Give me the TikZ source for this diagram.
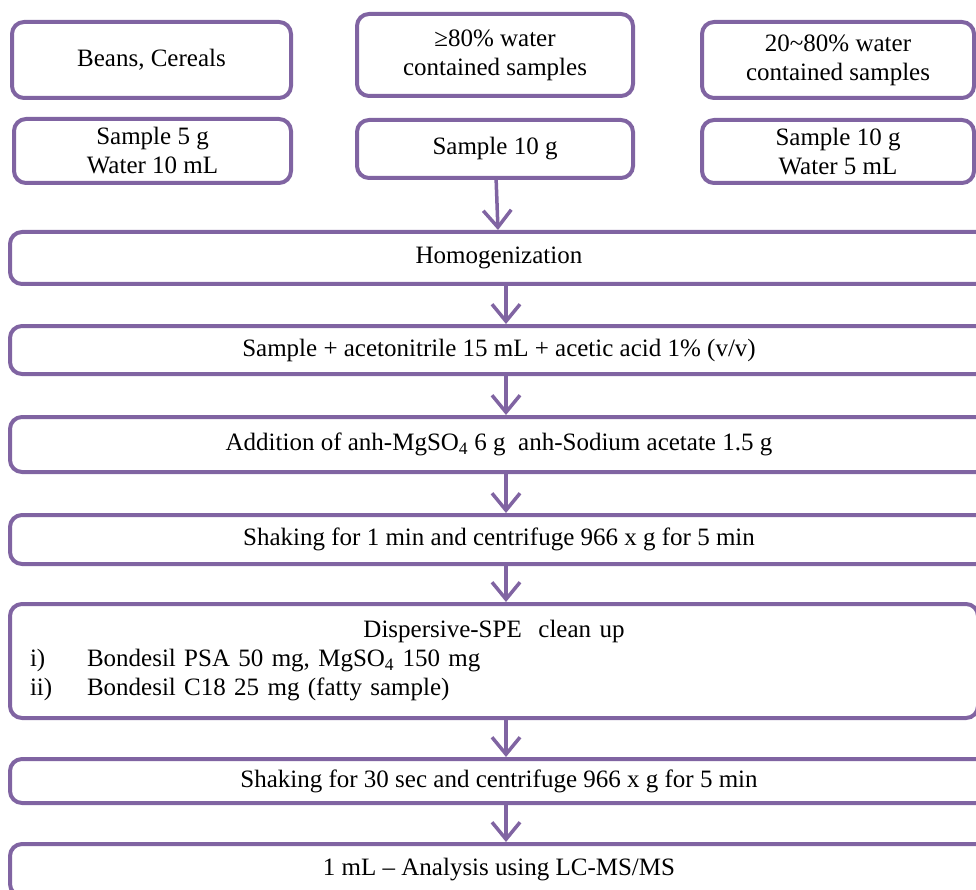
\documentclass[tikz,border=0pt]{standalone}
\usepackage{fontspec}
\setmainfont{Liberation Serif}
\usetikzlibrary{arrows.meta}
\definecolor{boxpurple}{HTML}{8064A2}
\tikzset{
    box/.style={draw=boxpurple, line width=4pt, rounded corners=12pt, fill=white, align=center, inner sep=0pt, font=\fontsize{25}{29}\selectfont},
    topbox/.style={box, minimum width=#1},
    widebox/.style={box, minimum width=978pt},
    flow/.style={draw=boxpurple, line width=3.5pt, -{Straight Barb[length=17pt, width=28pt]}}
}
\begin{document}
\begin{tikzpicture}[x=1pt, y=-1pt]
                            \useasboundingbox (0,0) rectangle (976,890);
                            \clip (0,0) rectangle (976,890);
                            \node[topbox=279pt, minimum height=76pt] (beans) at (151.5,60) {Beans, Cereals};
                            \node[topbox=277pt, minimum height=64pt] (beansamt) at (152.5,151) {Sample 5 g\\Water 10 mL};
                            \node[topbox=276pt, minimum height=82pt] (wet) at (495,55) {≥80\% water\\contained samples};
                            \node[topbox=276pt, minimum height=58pt] (wetamt) at (495,149) {Sample 10 g};
                            \node[topbox=272pt, minimum height=76pt] (semi) at (838,60) {20\textasciitilde80\% water\\contained samples};
                            \node[topbox=272pt, minimum height=63pt] (semiamt) at (838,151.5) {Sample 10 g\\Water 5 mL};
                            \node[widebox, minimum height=52pt] (homog) at (499,258) {Homogenization};
                            \node[widebox, minimum height=48pt] (acet) at (499,350) {Sample + acetonitrile 15 mL + acetic acid 1\% (v/v)};
                            \node[widebox, minimum height=55pt] (addn) at (499,444.5) {Addition of anh-MgSO\textsubscript{4} 6 g\ \ anh-Sodium acetate 1.5 g};
                            \node[widebox, minimum height=49pt] (shake) at (499,539.5) {Shaking for 1 min and centrifuge 966 x g for 5 min};
                            \node[box, minimum width=968pt, minimum height=114pt, text width=928pt, align=left] (dspe) at (494,661) {{\centering Dispersive-SPE\ \ clean up\par}\makebox[57pt][l]{i)}Bondesil PSA 50 mg, MgSO\textsubscript{4} 150 mg\\\makebox[57pt][l]{ii)}Bondesil C18 25 mg (fatty sample)};
                            \node[widebox, minimum height=44pt] (shaketwo) at (499,781) {Shaking for 30 sec and centrifuge 966 x g for 5 min};
                            \node[widebox, minimum height=52pt] (lcms) at (499,870) {1 mL – Analysis using LC-MS/MS};
                            \draw[flow] (wetamt) -- (homog);
                            \draw[flow] ([xshift=7pt]homog.south) -- ([xshift=7pt]acet.north);
                            \draw[flow] ([xshift=7pt]acet.south) -- ([xshift=7pt]addn.north);
                            \draw[flow] ([xshift=7pt]addn.south) -- ([xshift=7pt]shake.north);
                            \draw[flow] ([xshift=7pt]shake.south) -- ([xshift=12pt]dspe.north);
                            \draw[flow] ([xshift=12pt]dspe.south) -- ([xshift=7pt]shaketwo.north);
                            \draw[flow] ([xshift=7pt]shaketwo.south) -- ([xshift=7pt]lcms.north);
                        \end{tikzpicture}
\end{document}
